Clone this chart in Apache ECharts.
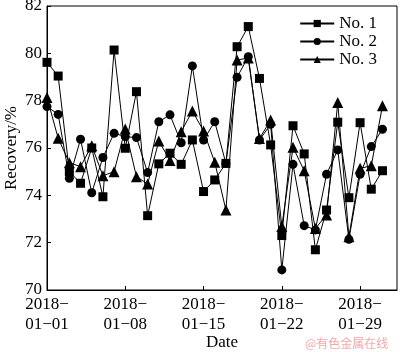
<!DOCTYPE html>
<html><head><meta charset="utf-8">
<script src="https://cdn.jsdelivr.net/npm/echarts@6/dist/echarts.min.js"></script>
<style>html,body{margin:0;padding:0;background:#fff}#c{width:400px;height:352px}</style>
</head><body><div id="c"></div>
<script>
const dates = ["2018-01-01","2018-01-02","2018-01-03","2018-01-04","2018-01-05","2018-01-06","2018-01-07","2018-01-08","2018-01-09","2018-01-10","2018-01-11","2018-01-12","2018-01-13","2018-01-14","2018-01-15","2018-01-16","2018-01-17","2018-01-18","2018-01-19","2018-01-20","2018-01-21","2018-01-22","2018-01-23","2018-01-24","2018-01-25","2018-01-26","2018-01-27","2018-01-28","2018-01-29","2018-01-30","2018-01-31"];
const no1 = [79.62,79.04,75.0,74.51,76.0,73.94,80.14,75.99,78.38,73.14,75.33,75.78,75.31,76.34,74.16,74.65,75.35,80.28,81.13,78.94,76.13,72.3,76.94,75.75,71.7,73.38,77.09,73.9,77.07,74.26,75.04];
const no2 = [77.75,77.42,74.72,76.37,74.11,75.6,76.62,76.48,76.44,74.96,77.11,77.4,76.22,79.47,76.34,77.11,75.35,78.99,79.86,76.34,77.0,70.85,75.31,72.72,72.54,74.89,75.92,72.14,74.89,76.06,76.79];
const no3 = [78.13,76.41,75.38,75.21,76.1,74.83,75.0,76.8,74.79,74.48,76.3,75.47,76.69,77.56,76.72,75.4,73.38,79.72,79.8,76.4,77.18,72.68,76.03,75.04,72.6,73.17,77.92,72.25,75.14,75.25,77.78];
const seriesNames = ["No. 1","No. 2","No. 3"];
const symbols = ["rect","circle","triangle"];

const font = "Liberation Serif";
const chart = echarts.init(document.getElementById('c'));
const toPts = arr => arr.map((v,i)=>[i,v]);
function fmtDate(i){
  const d = new Date(Date.UTC(2018,0,1+i));
  const m = String(d.getUTCMonth()+1).padStart(2,'0');
  const dd = String(d.getUTCDate()).padStart(2,'0');
  return d.getUTCFullYear()+"\u2212\n"+m+"\u2212"+dd;
}
const all=[no1,no2,no3];
chart.setOption({
  animation:false,
  grid:{left:47,top:6,right:3,bottom:62,show:true,borderColor:'#000',borderWidth:1,containLabel:false,outerBoundsMode:'none'},
  legend:{
    data:seriesNames, orient:'vertical', right:18, top:10,
    itemWidth:34, itemHeight:9, itemGap:1,
    textStyle:{fontFamily:font,fontSize:17,color:'#000'}
  },
  xAxis:{
    type:'value', min:0, max:31.3, interval:7,
    name:'Date', nameLocation:'middle', nameGap:44, nameMoveOverlap:false,
    nameTextStyle:{fontFamily:font,fontSize:17,color:'#000'},
    axisLine:{lineStyle:{color:'#000',width:1}},
    axisTick:{inside:true,length:4,lineStyle:{color:'#000'}},
    splitLine:{show:false},
    axisLabel:{formatter:v=>fmtDate(v),fontFamily:font,fontSize:17,color:'#000',lineHeight:20,margin:5,showMaxLabel:false}
  },
  yAxis:{
    type:'value', min:70, max:82, interval:2,
    name:'Recovery/%', nameLocation:'middle', nameGap:27, nameMoveOverlap:false,
    nameTextStyle:{fontFamily:font,fontSize:17,color:'#000'},
    axisLine:{lineStyle:{color:'#000',width:1}},
    axisTick:{inside:true,length:4,lineStyle:{color:'#000'}},
    splitLine:{show:false},
    axisLabel:{fontFamily:font,fontSize:17,color:'#000',margin:5}
  },
  graphic:[{type:'text',left:305,top:337,style:{text:'@有色金属在线',fontFamily:'Noto Sans CJK SC',fontSize:12,fill:'#f2a8a8'}}],
  series: all.map((arr,k)=>({
    name:seriesNames[k], type:'line', data:toPts(arr),
    symbol:symbols[k], symbolSize:k===2?11:9, showAllSymbol:true,
    lineStyle:{color:'#000',width:1}, itemStyle:{color:'#000'}
  }))
});
</script></body></html>
